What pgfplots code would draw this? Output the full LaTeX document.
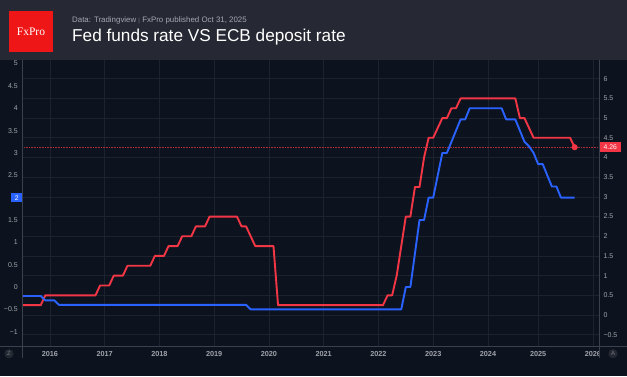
\documentclass[border=0pt]{standalone}
\usepackage{fontspec}
\setmainfont{Liberation Sans}
\newfontfamily\seriffont{Liberation Serif}
\usepackage{pgfplots}
\usepackage{pgfplotstable}
\pgfplotsset{compat=1.18}
\definecolor{bg}{RGB}{13,19,30}
\definecolor{hdr}{RGB}{38,41,51}
\definecolor{gridc}{RGB}{28,34,46}
\definecolor{axc}{RGB}{60,65,78}
\definecolor{tickc}{RGB}{160,163,170}
\definecolor{subc}{RGB}{165,168,175}
\definecolor{fedred}{RGB}{242,54,69}
\definecolor{ecbblue}{RGB}{41,98,255}
\definecolor{logored}{RGB}{238,22,22}
\definecolor{btn}{RGB}{36,40,50}

% Fed funds rate (right scale), x = monthly bar index, 0 = Jan 2016
\pgfplotstableread{
x y
-6 0.25
-2 0.25
-1 0.5
10 0.5
11 0.75
13 0.75
14 1.0
16 1.0
17 1.25
22 1.25
23 1.5
25 1.5
26 1.75
28 1.75
29 2.0
31 2.0
32 2.25
34 2.25
35 2.5
41 2.5
42 2.25
43 2.25
44 2.0
45 1.75
49 1.75
50 0.25
73 0.25
74 0.5
75 0.5
76 1.0
77 1.75
78 2.5
79 2.5
80 3.25
81 3.25
82 4.0
83 4.5
84 4.5
85 4.75
86 5.0
87 5.0
88 5.25
89 5.25
90 5.5
102 5.5
103 5.0
104 5.0
105 4.75
106 4.5
114 4.5
115 4.26
}\fed

% ECB deposit rate (left scale)
\pgfplotstableread{
x y
-6 -0.2
-2 -0.2
-1 -0.3
1 -0.3
2 -0.4
43 -0.4
44 -0.5
77 -0.5
78 0
79 0
80 0.75
81 1.5
82 1.5
83 2.0
84 2.0
85 2.5
86 3.0
87 3.0
88 3.25
89 3.5
90 3.75
91 3.75
92 4.0
99 4.0
100 3.75
102 3.75
103 3.5
104 3.25
105 3.15
106 3.0
107 2.75
108 2.75
109 2.5
110 2.25
111 2.25
112 2.0
115 2.0
}\ecb

\pgfplotsset{base/.style={
  scale only axis, width=576.8pt, height=286pt,
  at={(22.5pt,30pt)}, anchor=south west,
  xmin=-6, xmax=120.4,
  axis line style={draw=none}, major tick length=0pt,
  tick style={draw=none}, clip=false,
}}

\begin{document}
\begin{tikzpicture}[x=1pt,y=1pt]
\path[use as bounding box] (0,0) rectangle (627,376);
\fill[bg] (0,0) rectangle (627,376);
\fill[hdr] (0,316) rectangle (627,376);
% logo
\fill[logored] (9,324) rectangle (53,365);
\node[text=white, font=\seriffont\fontsize{11.5}{12}\selectfont] at (31,344.5) {FxPro};
\node[anchor=base west, inner sep=0pt, text=subc, font=\fontsize{7.9}{9}\selectfont] at (72,353.3)
  {Data: Tradingview \textcolor{subc!70!hdr}{\raisebox{0.3pt}{\fontsize{6}{7}\selectfont|}} FxPro published Oct 31, 2025};
\node[anchor=base west, inner sep=0pt, text=white, font=\fontsize{17.2}{18}\selectfont] at (72,334.3)
  {Fed funds rate VS ECB deposit rate};

% right scale: Fed funds rate
\begin{axis}[base,
  ymin=-0.787, ymax=6.475,
  ytick={-0.5,0,0.5,1,1.5,2,2.5,3,3.5,4,4.5,5,5.5,6},
  yticklabels={−0.5,0,0.5,1,1.5,2,2.5,3,3.5,4,4.5,5,5.5,6},
  yticklabel pos=right,
  yticklabel style={anchor=west, xshift=4pt, inner sep=0pt, text=tickc, font=\fontsize{7}{8}\selectfont},
  xtick={0,12,24,36,48,60,72,84,96,107,119},
  xticklabels={2016,2017,2018,2019,2020,2021,2022,2023,2024,2025,2026},
  xticklabel style={anchor=base, yshift=-10.6pt, inner sep=0pt, text=tickc, font=\bfseries\fontsize{7.3}{8}\selectfont},
  xmajorgrids, ymajorgrids,
  grid style={draw=gridc, line width=0.6pt},
]
\addplot[densely dotted, draw=fedred!70!bg, line width=0.6pt] coordinates {(-6,4.26) (120.4,4.26)};
\addplot[fedred, line width=1.9pt, line join=round] table[x=x,y=y] {\fed};
\addplot[only marks, mark=*, mark size=2.8pt, fedred] coordinates {(115,4.26)};
\node[anchor=west, fill=fedred, text=white, inner sep=0pt, minimum width=21.5pt, minimum height=10pt,
  font=\fontsize{6.8}{7}\selectfont] at (axis cs:120.4,4.26) {4.26};
\end{axis}

% left scale: ECB deposit rate
\begin{axis}[base,
  ymin=-1.32, ymax=5.08,
  ytick={-1,-0.5,0,0.5,1,1.5,2,2.5,3,3.5,4,4.5,5},
  yticklabels={−1,−0.5,0,0.5,1,1.5,2,2.5,3,3.5,4,4.5,5},
  yticklabel pos=left,
  yticklabel style={anchor=east, xshift=-4.5pt, inner sep=0pt, text=tickc, font=\fontsize{7}{8}\selectfont},
  xtick=\empty,
]
\addplot[ecbblue, line width=1.9pt, line join=round] table[x=x,y=y] {\ecb};
\node[anchor=east, fill=ecbblue, text=white, inner sep=0pt, minimum width=11pt, minimum height=9.5pt,
  font=\fontsize{6.8}{7}\selectfont] at (axis cs:-6,2) {2};
\end{axis}

% clip the last year label at the price scale, frame lines, buttons
\fill[bg] (599.8,0) rectangle (627,29.6);
\draw[axc, line width=0.7pt] (0,30) -- (627,30);
\draw[axc, line width=0.7pt] (22.5,18) -- (22.5,316);
\draw[axc, line width=0.7pt] (599.3,18) -- (599.3,316);
\fill[btn] (9,22.3) circle (4.6);
\node[text=tickc!70!bg, font=\fontsize{6}{7}\selectfont, inner sep=0pt] at (9,22.3) {Z};
\fill[btn] (613,22.3) circle (4.6);
\node[text=tickc!70!bg, font=\fontsize{6}{7}\selectfont, inner sep=0pt] at (613,22.3) {A};
\end{tikzpicture}
\end{document}
